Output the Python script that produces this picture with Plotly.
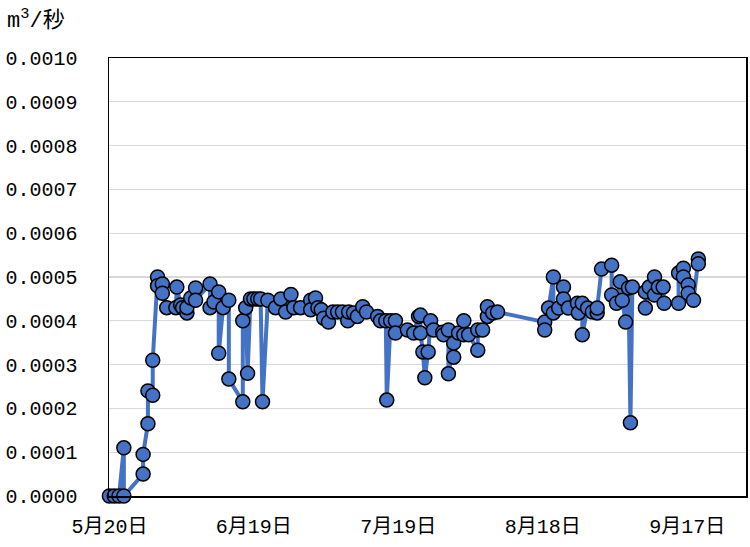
import pandas as pd
import plotly.graph_objects as go

start_date = "2023-05-20"

# day offsets from 5月20日 and flow in m3/s
day_offsets = [
    0, 1, 2, 3, 3,
    7, 7, 8, 8, 9, 9,
    10, 10, 11, 11, 11.9,
    13.8, 14, 14.8, 15.2, 16.1, 16.1, 16.9, 17.9, 17.9,
    20.9, 20.9, 21.7, 22.7, 22.7, 23.6, 24.8, 24.8, 27.7, 27.7, 28.3, 28.7,
    29.3, 30, 30.8, 31.4, 31.8, 32.9,
    34.5, 35.6, 36.6, 37.7, 38.3, 39.7, 41.8, 41.8, 42.8, 43.3, 44, 44.5,
    45.5, 46.4, 47.4, 48.4, 49.5, 49.7, 50.7, 51.5, 52.6, 53.4, 55.7, 56.3,
    57.4, 57.6, 58.4, 59.4, 59.4, 61.9, 63.2, 64.2,
    64.6, 64.6, 65.1, 65.5, 66.2, 66.7, 67.3, 69.2, 69.4, 70.4, 70.4,
    71.5, 71.5, 72.5, 73.6, 73.6, 74.6, 76.5, 76.5, 77.5, 78.5, 78.5,
    79.6, 80.6,
    90.4, 90.4, 91.2, 92.2, 92.2, 93.3, 94.3, 94.3, 95.3, 97.2, 97.4,
    98.2, 98.2, 99.3, 100.3, 101.3, 101.3, 102.2, 104.3, 104.3, 105.3,
    106.1, 106.5, 107.2, 107.8, 108.2, 108.6, 111.3, 111.3, 112.1, 113.2,
    113.2, 114, 115, 115.2, 118.2, 118.2, 119.2, 119.2, 120.2, 120.2,
    121.3, 122.3, 122.3,
]

flow = [
    0, 0, 0, 0.00011, 0,
    0.00005, 0.000095, 0.000165, 0.00024, 0.00023, 0.00031,
    0.0005, 0.00048, 0.000484, 0.000463, 0.00043,
    0.00043, 0.000477, 0.000436, 0.00043, 0.000418, 0.00043, 0.000452, 0.000475, 0.000447,
    0.000484, 0.00043, 0.000443, 0.000466, 0.000326, 0.00043, 0.000447, 0.000267, 0.000215, 0.0004, 0.00043, 0.00028,
    0.00045, 0.00045, 0.00045, 0.00045, 0.000215, 0.000447,
    0.00043, 0.00045, 0.00042, 0.00046, 0.00043, 0.00043, 0.000447, 0.000425, 0.000452, 0.00043, 0.000425, 0.000406,
    0.000397, 0.00042, 0.00042, 0.00042, 0.0004, 0.00042, 0.000418, 0.00041, 0.000432, 0.00042, 0.00041, 0.0004,
    0.0004, 0.000219, 0.0004, 0.0004, 0.000372, 0.000379, 0.000372, 0.00041,
    0.000413, 0.000372, 0.000329, 0.00027, 0.000329, 0.0004, 0.000379, 0.000374, 0.000368, 0.000379, 0.000279,
    0.000349, 0.000317, 0.000372, 0.0004, 0.000368, 0.000368, 0.000333, 0.000379, 0.000379, 0.00041, 0.000432,
    0.000418, 0.00042,
    0.000397, 0.000379, 0.000429, 0.0005, 0.000418, 0.000429, 0.000477, 0.00045, 0.000429, 0.00044, 0.000418,
    0.00044, 0.000368, 0.000429, 0.00042, 0.000418, 0.000429, 0.000518, 0.000527, 0.000459, 0.00044,
    0.000489, 0.000447, 0.000397, 0.000475, 0.000167, 0.000477, 0.000466, 0.000429, 0.000477, 0.0005,
    0.000459, 0.000477, 0.000477, 0.00044, 0.00044, 0.000509, 0.00052, 0.0005, 0.000482, 0.000463,
    0.000447, 0.000541, 0.00053,
]

y_ticks = [i / 10000 for i in range(0, 11)]
y_tick_labels = [f"{v:.4f}" for v in y_ticks]

base = pd.Timestamp(start_date)
dates = [base + pd.Timedelta(days=d) for d in day_offsets]

FONT = "Liberation Mono, Noto Sans CJK JP, sans-serif"
BLUE = "#4472C4"

fig = go.Figure()
fig.add_trace(go.Scatter(
    x=dates, y=flow, mode="lines+markers",
    line=dict(color=BLUE, width=4),
    marker=dict(size=14, color=BLUE, line=dict(color="black", width=1.5)),
    cliponaxis=False,
    showlegend=False,
))

x_min = base - pd.Timedelta(hours=2)
x_max = base + pd.Timedelta(days=132.2)

fig.update_layout(
    width=750, height=547,
    margin=dict(l=109, r=4, t=58, b=51),
    paper_bgcolor="white", plot_bgcolor="white",
    font=dict(family=FONT, size=20, color="black"),
    xaxis=dict(
        type="date", range=[x_min, x_max],
        tick0=start_date, dtick=30 * 86400000,
        tickformat="%-m月%-d日",
        showgrid=False, zeroline=False,
        showline=True, mirror=True, linecolor="black", linewidth=1.5,
        ticks="", ticklabelstandoff=11, automargin=False,
        tickfont=dict(family=FONT, size=20),
    ),
    yaxis=dict(
        range=[0, 0.001],
        tickvals=y_ticks, ticktext=y_tick_labels,
        showgrid=True, gridcolor="#d9d9d9", gridwidth=1.3,
        zeroline=False,
        showline=True, mirror=True, linecolor="black", linewidth=1.5,
        ticks="", ticklabelstandoff=26, automargin=False,
        tickfont=dict(family=FONT, size=20),
    ),
    annotations=[dict(
        text="m<sup>3</sup>/秒", xref="paper", yref="paper",
        x=-0.163, y=1.089, xanchor="left", yanchor="middle",
        showarrow=False, font=dict(family=FONT, size=22),
    )],
)

fig.write_html(
    "out.html",
    config={"displayModeBar": False, "staticPlot": True},
    post_script="document.body.style.margin='0';document.body.style.overflow='hidden';",
)
